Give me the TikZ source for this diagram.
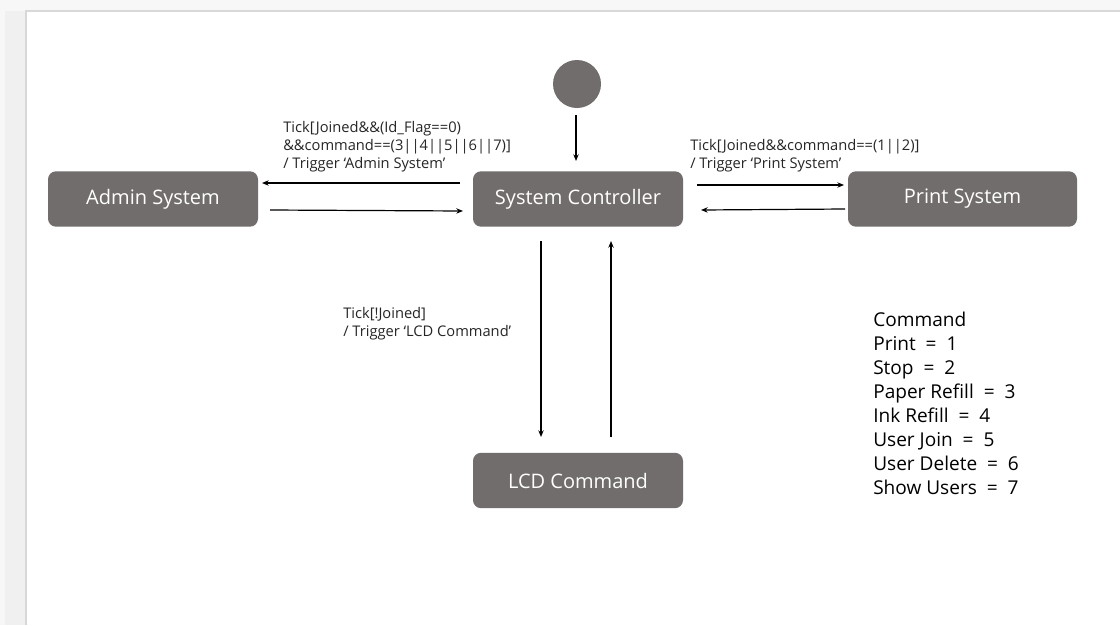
\documentclass[tikz,border=0pt]{standalone}
\usepackage{fontspec}
\setmainfont{Open Sans}
\usetikzlibrary{arrows.meta}
\definecolor{boxgray}{RGB}{113,109,108}
\definecolor{pagebg}{RGB}{247,247,247}
\definecolor{stripbg}{RGB}{240,240,240}
\definecolor{edgegray}{RGB}{216,216,216}
\begin{document}
\begin{tikzpicture}[x=0.75pt,y=-0.75pt,
  state/.style={draw=none,fill=boxgray,rounded corners=6pt,minimum width=157.5pt,minimum height=41.5pt,text=white,font=\fontsize{15}{17}\selectfont,inner sep=0pt},
  initst/.style={circle,fill=boxgray,minimum size=36pt,inner sep=0pt},
  conn/.style={-{Stealth[length=5pt,width=4pt]},line width=0.9pt,black},
  lbl/.style={font=\fontsize{11}{13.5}\selectfont,align=left,inner sep=0pt,anchor=north west,text=black!85},
  legend/.style={font=\fontsize{14.3}{18}\selectfont,align=left,inner sep=0pt,anchor=north west,text=black}]
\useasboundingbox (0,0) rectangle (1120,625);
\fill[pagebg] (0,0) rectangle (1120,625);
\fill[stripbg] (5,11) rectangle (26,625);
\fill[white] (26,11) rectangle (1120,625);
\draw[edgegray,line width=1.1pt] (26,625) -- (26,11) -- (1120,11);
% nodes
\node[initst] (init) at (577,84) {};
\node[state] (ctrl) at (578,199) {\raisebox{-1.5pt}{System Controller}};
\node[state,minimum width=157.5pt] (admin) at (153,199) {\raisebox{-1.5pt}{Admin System}};
\node[state,minimum width=171.75pt] (print) at (962.5,199) {\raisebox{-1.5pt}{Print System}};
\node[state] (lcd) at (578,480.5) {\raisebox{-1.5pt}{LCD Command}};
% helper coordinates
\coordinate (i1) at (576,115);
\coordinate (i2) at (576,161);
\draw[conn] (i1) -- (i2);
\coordinate (a1) at (460,183); \coordinate (a2) at (262,183);
\coordinate (a3) at (270,210); \coordinate (a4) at (463,211);
\draw[conn] (a1) -- (a2);
\draw[conn] (a3) -- (a4);
\coordinate (p1) at (697,185); \coordinate (p2) at (844,185);
\coordinate (p3) at (845,209); \coordinate (p4) at (701,210);
\draw[conn] (p1) -- (p2);
\draw[conn] (p3) -- (p4);
\coordinate (l1) at (541,241); \coordinate (l2) at (541,437);
\coordinate (l3) at (611,437); \coordinate (l4) at (611,241);
\draw[conn] (l1) -- (l2);
\draw[conn] (l3) -- (l4);
% labels
\node[lbl] (la) at (283,121.5) {Tick[Joined\&\&(Id\_Flag==0)\\\&\&command==(3||4||5||6||7)]\\/ Trigger ‘Admin System’};
\node[lbl] (lp) at (690,139.5) {Tick[Joined\&\&command==(1||2)]\\/ Trigger ‘Print System’};
\node[lbl] (ll) at (343,307.5) {Tick[!Joined]\\/ Trigger ‘LCD Command’};
\node[legend] (leg) at (873,312) {Command\\Print\ \ =\ \ 1\\Stop\ \ =\ \ 2\\Paper Refill\ \ =\ \ 3\\Ink Refill\ \ =\ \ 4\\User Join\ \ =\ \ 5\\User Delete\ \ =\ \ 6\\Show Users\ \ =\ \ 7};
\end{tikzpicture}
\end{document}
